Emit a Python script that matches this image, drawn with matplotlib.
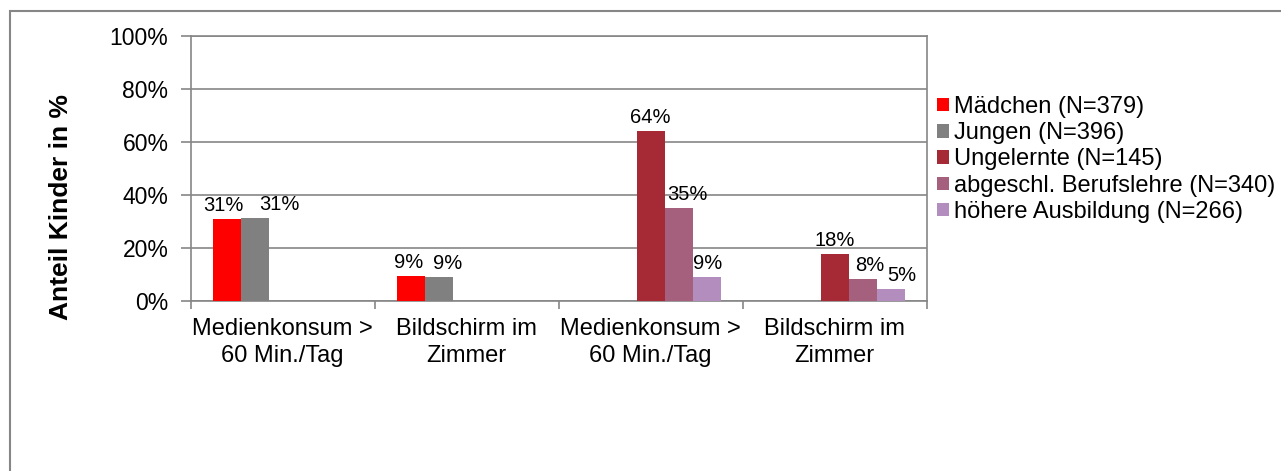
import matplotlib
matplotlib.use('Agg')
import matplotlib.pyplot as plt
from matplotlib.patches import Rectangle
import numpy as np

plt.rcParams['font.family'] = ['Liberation Sans', 'DejaVu Sans']

# Daten (Anteile in %)
categories = ["Medienkonsum >\n60 Min./Tag", "Bildschirm im\nZimmer",
              "Medienkonsum >\n60 Min./Tag", "Bildschirm im\nZimmer"]
series_labels = ["Mädchen (N=379)", "Jungen (N=396)", "Ungelernte (N=145)",
                 "abgeschl. Berufslehre (N=340)", "höhere Ausbildung (N=266)"]
maedchen = [30.9, 9.4, None, None]
jungen = [31.4, 8.9, None, None]
ungelernte = [None, None, 64.2, 17.7]
berufslehre = [None, None, 35.1, 8.2]
hoehere = [None, None, 8.9, 4.6]
y_ticks = [0, 20, 40, 60, 80, 100]

all_series = [maedchen, jungen, ungelernte, berufslehre, hoehere]
colors = ['#FF0000', '#808080', '#A52A36', '#A5607E', '#B28DBE']
grid_col = '#868686'

# horizontale Verschiebung der Beschriftungen (Pixel), wie im Original
label_dx = [[-3, -2, 0, 0], [25, 9, 0, 0], [0, 0, 0, 0], [0, 0, 9, 7], [0, 0, 1, 11]]

W, H = 1281, 471
fig = plt.figure(figsize=(W / 100, H / 100), dpi=100)
ax = fig.add_axes([190.7 / W, 1 - 301 / H, 736 / W, 265 / H])

# Rahmen um das ganze Diagramm
fig.patches.append(Rectangle((10 / W, -0.1), 1.2, 1 - 11 / H + 0.1,
                             transform=fig.transFigure, fill=False,
                             edgecolor=grid_col, linewidth=1.5))

n = len(all_series)
bar_w = 0.152
start = 0.5 - n * bar_w / 2
for i, (vals, col, lab) in enumerate(zip(all_series, colors, series_labels)):
    xs, hs, dxs = [], [], []
    for j, v in enumerate(vals):
        if v is None:
            continue
        xs.append(j + start + (i + 0.5) * bar_w)
        hs.append(v)
        dxs.append(label_dx[i][j])
    ax.bar(xs, hs, width=bar_w, color=col, edgecolor='none', label=lab, zorder=3)
    for x, h, dx in zip(xs, hs, dxs):
        ax.annotate(f"{round(h):d}%", (x, h), xytext=(dx * 0.72, 3), textcoords='offset points',
                    ha='center', va='bottom', fontsize=14.5, zorder=4)

ax.set_xlim(0, len(categories))
ax.set_ylim(0, 100)
ax.set_yticks(y_ticks)
ax.set_yticklabels([f"{t}%" for t in y_ticks], fontsize=16.5)
ax.yaxis.grid(True, color=grid_col, linewidth=1.2, zorder=0)

ax.set_xticks(np.arange(len(categories) + 1))
ax.set_xticklabels([])
ax.set_xticks(np.arange(len(categories)) + 0.5, minor=True)
ax.set_xticklabels(categories, minor=True, fontsize=17, linespacing=1.3)
ax.tick_params(axis='x', which='major', length=6, color=grid_col, width=1.2)
ax.tick_params(axis='x', which='minor', length=0, pad=12)
ax.tick_params(axis='y', length=7, color=grid_col, width=1.2, pad=9)

for s in ax.spines.values():
    s.set_color(grid_col)
    s.set_linewidth(1.2)

fig.text(61 / W, 1 - 207 / H, "Anteil Kinder in %", rotation=90, ha='center', va='center',
         fontsize=19, fontweight='bold')

ax.legend(loc='upper left', bbox_to_anchor=(937 / W, 1 - 96 / H), bbox_transform=fig.transFigure,
          frameon=False, fontsize=17, handlelength=0.51, handleheight=0.51, handletextpad=0.22,
          labelspacing=0.18, borderaxespad=0, borderpad=0)

fig.savefig('out.png', dpi=100)
